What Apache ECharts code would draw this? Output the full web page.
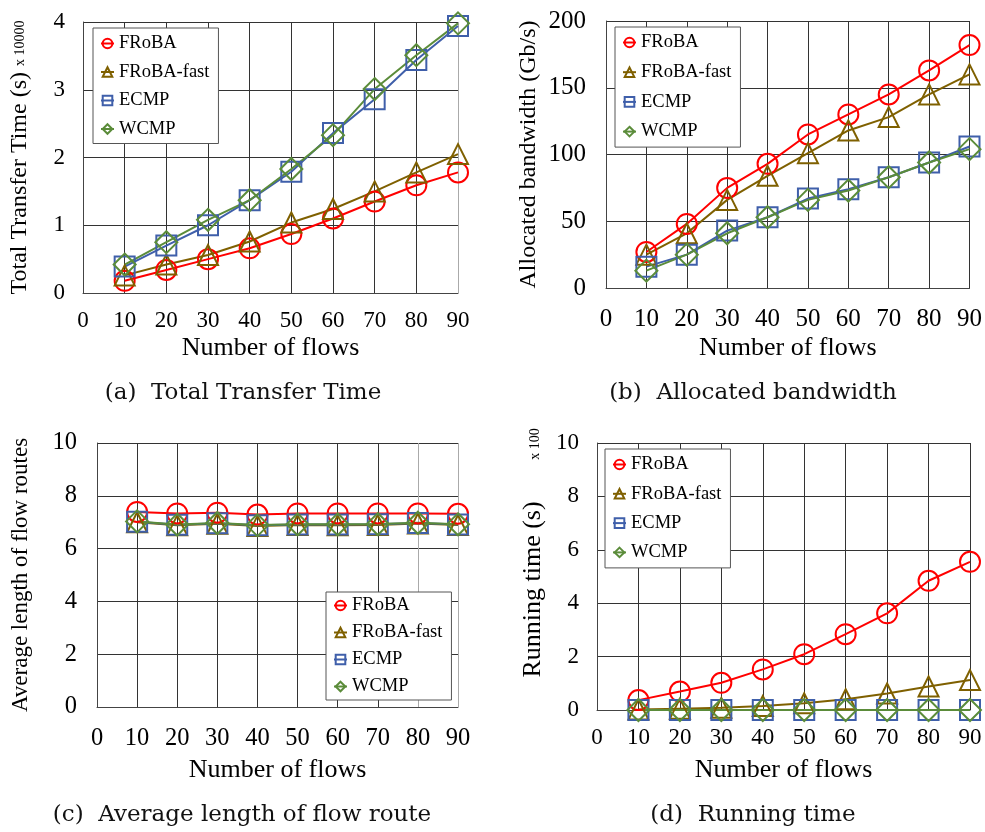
<!DOCTYPE html>
<html>
<head>
<meta charset="utf-8">
<script src="https://cdn.jsdelivr.net/npm/echarts@6/dist/echarts.min.js"></script>
<style>
html, body { margin: 0; padding: 0; background: #fff; }
#echarts { width: 985px; height: 832px; }
</style>
</head>
<body>
<div id="echarts"></div>
<script>
// x 轴
var flows = [10, 20, 30, 40, 50, 60, 70, 80, 90];
var names = ['FRoBA', 'FRoBA-fast', 'ECMP', 'WCMP'];

// (a) Total Transfer Time, x 10000 s
var tttFroba = [0.18, 0.34, 0.50, 0.66, 0.87, 1.10, 1.35, 1.59, 1.78];
var tttFast  = [0.26, 0.42, 0.56, 0.76, 1.04, 1.24, 1.50, 1.78, 2.05];
var tttEcmp  = [0.39, 0.70, 1.00, 1.37, 1.79, 2.36, 2.86, 3.44, 3.94];
var tttWcmp  = [0.42, 0.75, 1.08, 1.37, 1.83, 2.33, 3.01, 3.51, 3.98];

// (b) Allocated bandwidth, Gb/s
var bwFroba = [27, 48, 75, 93, 115, 130, 145, 163, 182];
var bwFast  = [25, 41, 66, 84, 101, 118, 128, 145, 160];
var bwEcmp  = [16, 25, 43, 53, 67, 74, 83, 94, 106];
var bwWcmp  = [13, 25, 41, 53, 66, 73, 83, 94, 104];

// (c) Average length of flow routes
var lenFroba = [7.39, 7.33, 7.36, 7.29, 7.33, 7.33, 7.33, 7.33, 7.32];
var lenFast  = [7.00, 6.88, 6.94, 6.86, 6.89, 6.88, 6.89, 6.95, 6.89];
var lenEcmp  = [7.02, 6.90, 6.96, 6.88, 6.91, 6.91, 6.92, 6.97, 6.91];
var lenWcmp  = [7.03, 6.91, 6.97, 6.89, 6.92, 6.92, 6.93, 6.98, 6.92];

// (d) Running time, x 100 s
var rtFroba = [0.37, 0.69, 1.02, 1.52, 2.09, 2.84, 3.62, 4.84, 5.55];
var rtFast  = [0.02, 0.05, 0.08, 0.15, 0.25, 0.40, 0.62, 0.88, 1.12];
var rtEcmp  = [0, 0, 0, 0, 0, 0, 0, 0, 0];
var rtWcmp  = [0, 0, 0, 0, 0, 0, 0, 0, 0];

var yTicksA = [0, 1, 2, 3, 4];
var yTicksB = [0, 50, 100, 150, 200];
var yTicksC = [0, 2, 4, 6, 8, 10];
var yTicksD = [0, 2, 4, 6, 8, 10];

var colors = ['#ff0000', '#7f6000', '#3f5faa', '#5b8c3a'];
var symbols = ['circle', 'triangle', 'rect', 'diamond'];
var sizes = [20, 20, 20, 22];
var serif = 'Liberation Serif';

function pairs(vals) {
    return flows.map(function (f, i) { return [f, vals[i]]; });
}

function makeSeries(idx, sets) {
    return sets.map(function (vals, k) {
        return {
            name: names[k],
            type: 'line',
            xAxisIndex: idx,
            yAxisIndex: idx,
            data: pairs(vals),
            symbol: symbols[k],
            symbolSize: sizes[k],
            color: colors[k],
            lineStyle: { color: colors[k], width: 2 },
            itemStyle: { color: 'rgba(255,255,255,0)', borderColor: colors[k], borderWidth: 2 },
            emphasis: { disabled: true },
            animation: false
        };
    });
}

function xAx(idx, fs, margin, gap, splitColors) {
    return {
        type: 'value', gridIndex: idx, min: 0, max: 90, interval: 10,
        name: 'Number of flows', nameLocation: 'middle', nameGap: gap,
        nameTextStyle: { fontFamily: serif, fontSize: 26, color: '#000' },
        axisLine: { lineStyle: { color: '#444', width: 1 } },
        axisTick: { show: false },
        axisLabel: { fontFamily: serif, fontSize: fs, color: '#000', margin: margin },
        splitLine: { show: true, lineStyle: { color: splitColors || '#333', width: 1 } }
    };
}

function yAx(idx, ticks, name, fs, nameFs, margin, gap, extra) {
    var ax = {
        type: 'value', gridIndex: idx, min: ticks[0], max: ticks[ticks.length - 1],
        interval: ticks[1] - ticks[0],
        name: name, nameLocation: 'middle', nameRotate: 90, nameGap: gap,
        nameTextStyle: { fontFamily: serif, fontSize: nameFs, color: '#000' },
        axisLine: { show: true, lineStyle: { color: '#444', width: 1 } },
        axisTick: { show: false },
        axisLabel: { fontFamily: serif, fontSize: fs, color: '#000', margin: margin },
        splitLine: { show: true, lineStyle: { color: '#333', width: 1 } }
    };
    if (extra) {
        for (var k in extra) ax.nameTextStyle[k] = extra[k];
    }
    return ax;
}

function leg(left, top, gap, pad) {
    return {
        data: names, orient: 'vertical', left: left, top: top,
        itemWidth: 13, itemHeight: 12, itemGap: gap,
        padding: pad,
        backgroundColor: '#fff', borderColor: '#555', borderWidth: 1, borderRadius: 0,
        textStyle: { fontFamily: serif, fontSize: 18.5, color: '#000', lineHeight: 18 },
        selectedMode: false
    };
}

function caption(x, y, text) {
    return {
        type: 'text', x: x, y: y,
        style: { text: text, fontFamily: 'DejaVu Serif', fontSize: 23, fill: '#111', align: 'center', verticalAlign: 'middle' }
    };
}

var gray = '#aaa', dark = '#333';

var option = {
    backgroundColor: '#fff',
    animation: false,
    grid: [
        { left: 83, top: 22, width: 375, height: 271 },
        { left: 606, top: 21, width: 364, height: 267 },
        { left: 97, top: 443, width: 361, height: 264 },
        { left: 597, top: 443, width: 373, height: 267 }
    ],
    xAxis: [
        xAx(0, 23, 16, 42, [dark, dark, dark, dark, dark, dark, dark, dark, dark, gray]),
        xAx(1, 25, 19, 47),
        xAx(2, 24.5, 19, 50, [dark, dark, dark, dark, dark, dark, dark, dark, gray, gray]),
        xAx(3, 23, 16, 47)
    ],
    yAxis: [
        yAx(0, yTicksA, 'Total Transfer Time (s) {s|x 10000}', 23, 24, 18, 51,
            { rich: { s: { fontFamily: serif, fontSize: 14, color: '#000' } } }),
        yAx(1, yTicksB, 'Allocated bandwidth (Gb/s)', 25, 24, 20, 65),
        yAx(2, yTicksC, 'Average length of flow routes', 24.5, 23, 20, 65),
        yAx(3, yTicksD, 'Running time (s)', 23, 26, 18, 51, { padding: [0, 26, 0, 0] })
    ],
    legend: [
        leg(93, 28, 9.5, [6, 9, 5, 7]),
        leg(615, 27, 10.7, [6, 9, 6, 7]),
        leg(326, 592, 8, [4, 9, 4, 7]),
        leg(605, 449, 10.3, [6, 9, 6, 7])
    ],
    graphic: [
        caption(243, 393, '(a)  Total Transfer Time'),
        caption(753, 393, '(b)  Allocated bandwidth'),
        caption(242, 815, '(c)  Average length of flow route'),
        caption(753, 815, '(d)  Running time'),
        {
            type: 'text', x: 535, y: 444, rotation: Math.PI / 2,
            style: { text: 'x 100', fontFamily: serif, fontSize: 14, fill: '#000', align: 'center', verticalAlign: 'middle' }
        }
    ],
    series: [].concat(
        makeSeries(0, [tttFroba, tttFast, tttEcmp, tttWcmp]),
        makeSeries(1, [bwFroba, bwFast, bwEcmp, bwWcmp]),
        makeSeries(2, [lenFroba, lenFast, lenEcmp, lenWcmp]),
        makeSeries(3, [rtFroba, rtFast, rtEcmp, rtWcmp])
    )
};

var myChart = echarts.init(document.getElementById('echarts'));
myChart.setOption(option);
window.onresize = function () {
    myChart.resize();
};
</script>
</body>
</html>
